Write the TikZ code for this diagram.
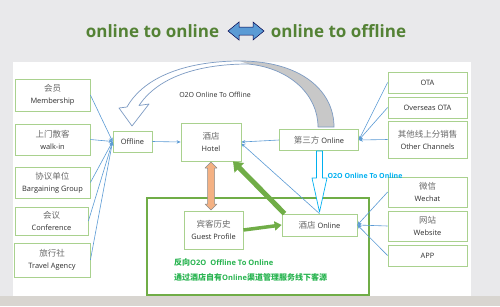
\documentclass[tikz,border=0pt]{standalone}
\usepackage{fontspec}
\setmainfont{Open Sans}
\newfontfamily\cjk{Noto Sans CJK SC}
\usetikzlibrary{arrows.meta,calc}
\definecolor{bggrey}{RGB}{233,233,235}
\definecolor{stripgrey}{RGB}{216,213,208}
\definecolor{boxgreen}{RGB}{169,209,142}
\definecolor{linkblue}{RGB}{91,155,213}
\definecolor{titlegreen}{RGB}{84,130,53}
\definecolor{cyanblue}{RGB}{0,176,240}
\definecolor{brightgreen}{RGB}{40,180,80}
\definecolor{darkgreen}{RGB}{112,173,71}
\definecolor{curvblue}{RGB}{125,155,195}
\definecolor{arrowgrey}{RGB}{200,200,200}
\definecolor{cngrey}{RGB}{105,105,105}
\definecolor{engrey}{RGB}{45,45,45}
\definecolor{orangefill}{RGB}{244,177,131}
\newcommand\cnen[2]{{\cjk\color{cngrey}\fontsize{8.5}{12}\selectfont #1}\\{\color{engrey}\fontsize{7.4}{12}\selectfont #2}}
\tikzset{
  box/.style={draw=boxgreen, line width=0.8pt, fill=white, inner sep=0pt, align=center,
    font=\fontsize{7.4}{12}\selectfont, text=engrey},
  link/.style={draw=linkblue, line width=0.6pt, -{Stealth[length=4pt,width=3.5pt]}},
  title/.style={font=\fontsize{17}{20}\selectfont\bfseries, text=titlegreen},
}
\begin{document}
\begin{tikzpicture}[x=1pt,y=-1pt]
\useasboundingbox (0,0) rectangle (500,306);
\fill[bggrey] (0,0) rectangle (500,306);
\fill[stripgrey] (0,296) rectangle (500,306);
\fill[white] (13,62) rectangle (471,296);

% title
\node[title] (t1) at (152.5,31) {online to online};
\node[title] (t2) at (338.5,31) {online to offline};
\draw[fill=linkblue, draw=black!70!blue, line width=0.5pt]
  (228,31) -- (239,22) -- (239,27) -- (253,27) -- (253,22) -- (264,31) -- (253,40) -- (253,35) -- (239,35) -- (239,40) -- cycle;

% curved arrow O2O online to offline
\fill[white] (132,126) -- (149,104) -- (139,105.5) .. controls (160,74) and (205,64) .. (248,64)
  .. controls (290,68) and (318,95) .. (318,127) -- (334,127) .. controls (334,90) and (300,61) .. (240,61)
  .. controls (190,61) and (145,75) .. (127,107) -- (119,108) -- cycle;
\fill[arrowgrey] (248,64) .. controls (290,68) and (318,95) .. (318,127) -- (334,127)
  .. controls (334,90) and (300,61) .. (240,61) -- cycle;
\draw[curvblue, line width=0.7pt, line join=round] (132,126) -- (149,104) -- (139,105.5) .. controls (160,74) and (205,64) .. (248,64)
  .. controls (290,68) and (318,95) .. (318,127) -- (334,127) .. controls (334,90) and (300,61) .. (240,61)
  .. controls (190,61) and (145,75) .. (127,107) -- (119,108) -- cycle;
\node[font=\fontsize{7}{8}\selectfont, text=engrey] (lbl1) at (215,95) {O2O Online To Offline};

% big green box
\draw[darkgreen, line width=1.3pt] (147,198) rectangle (369,295);

% left boxes
\node[box, minimum width=75pt, minimum height=32pt] (mem) at (52.5,95) {\cnen{会员}{Membership}};
\node[box, minimum width=75pt, minimum height=31pt] (walk) at (52.5,139.5) {\cnen{上门散客}{walk-in}};
\node[box, minimum width=75pt, minimum height=31pt] (barg) at (52.5,182.5) {\cnen{协议单位}{Bargaining Group}};
\node[box, minimum width=73pt, minimum height=28pt] (conf) at (51.5,221) {\cnen{会议}{Conference}};
\node[box, minimum width=76pt, minimum height=34pt] (trav) at (52,260) {\cnen{旅行社}{Travel Agency}};

% centre
\node[box, minimum width=39pt, minimum height=21pt] (off) at (132.5,141.5) {Offline};
\node[box, minimum width=60pt, minimum height=38pt] (hotel) at (211,142) {\cnen{酒店}{Hotel}};
\node[box, minimum width=79pt, minimum height=21pt] (third) at (319,140) {{\cjk\color{cngrey}\fontsize{8.5}{12}\selectfont 第三方} Online};
\node[box, minimum width=75pt, minimum height=22pt] (hon) at (319.5,225) {{\cjk\color{cngrey}\fontsize{8.5}{12}\selectfont 酒店} Online};
\node[box, minimum width=59pt, minimum height=38pt] (guest) at (213.5,230) {\cnen{宾客历史}{Guest Profile}};

% right boxes
\node[box, minimum width=79pt, minimum height=21pt] (ota) at (427.5,82.5) {OTA};
\node[box, minimum width=79pt, minimum height=21pt] (oota) at (427.5,107.5) {Overseas OTA};
\node[box, minimum width=79pt, minimum height=37pt] (other) at (427.5,139.5) {\cnen{其他线上分销售}{Other Channels}};
\node[box, minimum width=79pt, minimum height=30pt] (wechat) at (427.5,192) {\cnen{微信}{Wechat}};
\node[box, minimum width=79pt, minimum height=30pt] (web) at (427.5,226) {\cnen{网站}{Website}};
\node[box, minimum width=79pt, minimum height=21pt] (app) at (427.5,255.5) {APP};

% blue connectors
\foreach \b in {mem,walk,barg,conf,trav} \draw[link] (\b.east) -- (off.west);
\draw[link] (off.east) -- (hotel.west);
\draw[link] (third.west) -- (hotel.east);
\draw[link] (hon.north) -- ([yshift=-1.5pt]hotel.east);
\foreach \b in {ota,oota,other} \draw[link] (\b.west) -- (third.east);
\foreach \b in {wechat,web,app} \draw[link] (\b.west) -- (hon.east);

% hollow down arrow third -> hotel online
\draw[cyanblue, fill=white, line width=0.7pt, line join=round]
  (316.5,151) -- (322.5,151) -- (322.5,178) -- (327,178) -- (319.5,212) -- (312,178) -- (316.5,178) -- cycle;
\node[font=\fontsize{7}{8}\selectfont\bfseries, text=cyanblue] (lbl2) at (365,176) {O2O Online To Online};

% orange double arrow hotel <-> guest
\draw[fill=orangefill, draw=black!45, line width=0.5pt, line join=round]
  (211,162) -- (217,168) -- (214.5,168) -- (214.5,204) -- (217,204) -- (211,210) -- (205,204) -- (207.5,204) -- (207.5,168) -- (205,168) -- cycle;

% green arrows
\draw[darkgreen, line width=5pt, -{Triangle[length=9pt,width=13pt]}] ([xshift=-35pt]hon.north) -- ([xshift=22pt]hotel.south);
\draw[darkgreen, line width=3.5pt, -{Triangle[length=7pt,width=9pt]}] (guest.east) -- (hon.west);

% green texts
\node[anchor=west, font=\fontsize{7.5}{9}\selectfont\bfseries, text=brightgreen, inner sep=0pt] (g1) at (174,262)
  {{\cjk\fontsize{8}{9}\selectfont 反向}O2O\ \ Offline To Online};
\node[anchor=west, font=\fontsize{7.5}{9}\selectfont\bfseries, text=brightgreen, inner sep=0pt] (g2) at (174,277)
  {{\cjk\fontsize{8}{9}\selectfont 通过酒店自有}Online{\cjk\fontsize{8}{9}\selectfont 渠道管理服务线下客源}};
\end{tikzpicture}
\end{document}
